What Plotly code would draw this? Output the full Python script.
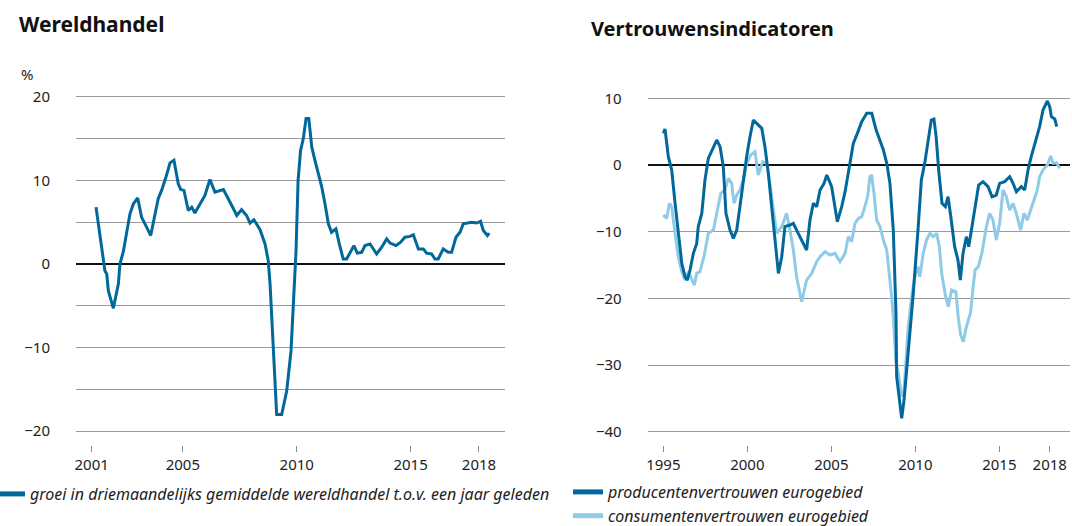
import plotly.graph_objects as go

# ---------------- data ----------------
# Wereldhandel: growth of 3-month average world trade vs one year earlier (%)
trade_x = [2001.19, 2001.44, 2001.58, 2001.66, 2001.73, 2001.95, 2002.17, 2002.24, 2002.39, 2002.68,
           2002.83, 2003.02, 2003.19, 2003.41, 2003.59, 2003.92, 2004.07, 2004.26, 2004.44, 2004.61,
           2004.80, 2004.91, 2005.05, 2005.24, 2005.39, 2005.53, 2005.75, 2005.97, 2006.19, 2006.41,
           2006.78, 2006.93, 2007.15, 2007.37, 2007.58, 2007.80, 2007.95, 2008.12, 2008.39, 2008.61,
           2008.75, 2008.83, 2008.97, 2009.12, 2009.34, 2009.56, 2009.75, 2009.85, 2009.97, 2010.06,
           2010.17, 2010.29, 2010.41, 2010.53, 2010.66, 2010.80, 2010.95, 2011.10, 2011.24, 2011.39,
           2011.53, 2011.72, 2011.87, 2012.04, 2012.19, 2012.37, 2012.51, 2012.66, 2012.85, 2013.00,
           2013.22, 2013.51, 2013.73, 2013.95, 2014.10, 2014.36, 2014.56, 2014.75, 2014.97, 2015.12,
           2015.34, 2015.56, 2015.70, 2015.92, 2016.07, 2016.21, 2016.43, 2016.65, 2016.80, 2016.99,
           2017.17, 2017.31, 2017.49, 2017.68, 2017.90, 2018.07, 2018.19, 2018.37, 2018.45]
trade_y = [6.8, 2.0, -0.8, -1.2, -3.2, -5.3, -2.4, 0.0, 1.5, 6.0,
           7.2, 7.9, 5.6, 4.4, 3.4, 7.8, 8.8, 10.4, 12.1, 12.4,
           9.6, 8.9, 8.8, 6.4, 6.8, 6.1, 7.2, 8.2, 10.1, 8.6,
           8.9, 8.2, 7.0, 5.8, 6.5, 5.8, 4.9, 5.3, 4.1, 2.4,
           0.4, -2.4, -10.4, -18.0, -18.0, -15.2, -10.4, -4.4, 1.6, 10.0,
           13.6, 15.0, 17.4, 17.4, 14.0, 12.4, 10.8, 9.2, 7.2, 4.8,
           3.8, 4.2, 2.4, 0.6, 0.6, 1.6, 2.2, 1.3, 1.4, 2.2,
           2.4, 1.2, 2.0, 3.0, 2.5, 2.2, 2.6, 3.2, 3.3, 3.5,
           1.8, 1.8, 1.3, 1.2, 0.6, 0.6, 1.8, 1.4, 1.4, 3.2,
           3.8, 4.8, 4.9, 5.0, 4.9, 5.1, 4.0, 3.4, 3.7]

# Vertrouwensindicatoren: producer confidence euro area
prod_x = [1995.0, 1995.1, 1995.3, 1995.5, 1995.7, 1995.89, 1996.1, 1996.29, 1996.43, 1996.59,
          1996.79, 1996.99, 1997.08, 1997.29, 1997.48, 1997.68, 1997.88, 1998.18, 1998.38, 1998.57,
          1998.73, 1998.97, 1999.17, 1999.37, 1999.56, 1999.76, 1999.96, 2000.16, 2000.36, 2000.56,
          2000.86, 2001.05, 2001.25, 2001.45, 2001.65, 2001.85, 2002.05, 2002.24, 2002.54, 2002.74,
          2003.03, 2003.33, 2003.53, 2003.73, 2003.93, 2004.13, 2004.33, 2004.57, 2004.73, 2005.02,
          2005.36, 2005.62, 2005.82, 2006.11, 2006.31, 2006.55, 2006.81, 2007.11, 2007.41, 2007.67,
          2007.9, 2008.1, 2008.3, 2008.49, 2008.69, 2008.85, 2008.89, 2008.99, 2009.19, 2009.33,
          2009.49, 2009.68, 2009.88, 2010.16, 2010.36, 2010.56, 2010.75, 2010.95, 2011.11, 2011.24,
          2011.39, 2011.59, 2011.79, 2011.95, 2012.14, 2012.34, 2012.54, 2012.68, 2012.84, 2013.04,
          2013.18, 2013.38, 2013.57, 2013.77, 2014.03, 2014.33, 2014.57, 2014.82, 2015.02, 2015.32,
          2015.62, 2015.82, 2016.02, 2016.31, 2016.51, 2016.71, 2016.9, 2017.2, 2017.4, 2017.6,
          2017.86, 2018.0, 2018.1, 2018.3, 2018.42]
prod_y = [4.75, 5.4, 1.25, -0.75, -5.75, -10.25, -14.75, -16.75, -17.25, -15.75,
          -13.25, -11.75, -9.25, -7.25, -2.25, 1.0, 2.0, 3.75, 2.75, -0.25,
          -7.25, -9.75, -11.0, -9.75, -6.25, -2.25, 1.25, 4.25, 6.75, 6.25,
          5.5, 2.75, -1.25, -6.25, -11.75, -16.25, -13.75, -9.25, -9.0, -8.75,
          -10.25, -11.75, -12.75, -8.25, -5.75, -6.25, -3.75, -2.75, -1.5, -3.25,
          -8.5, -6.25, -4.0, 0.25, 3.25, 4.75, 6.5, 7.75, 7.75, 5.25,
          3.75, 2.25, 0.25, -2.75, -9.75, -22.25, -31.75, -33.75, -38.0, -35.25,
          -30.75, -25.25, -19.25, -9.75, -2.25, 0.25, 3.75, 6.75, 6.9, 4.25,
          -0.75, -5.75, -6.25, -4.75, -8.25, -12.25, -14.25, -17.25, -13.25, -10.75,
          -12.25, -9.25, -5.75, -3.0, -2.5, -3.25, -4.75, -4.5, -2.75, -2.5,
          -1.75, -2.75, -4.0, -3.25, -3.75, -0.75, 1.25, 3.75, 5.75, 8.25,
          9.6, 8.75, 7.25, 6.9, 5.75]

# consumer confidence euro area
cons_x = [1995.0, 1995.2, 1995.36, 1995.5, 1995.7, 1995.89, 1996.1, 1996.29, 1996.49, 1996.69,
          1996.85, 1996.99, 1997.18, 1997.42, 1997.68, 1997.98, 1998.18, 1998.42, 1998.67, 1998.87,
          1999.07, 1999.21, 1999.37, 1999.56, 1999.76, 1999.96, 2000.2, 2000.46, 2000.65, 2000.92,
          2001.15, 2001.35, 2001.55, 2001.75, 2002.05, 2002.34, 2002.54, 2002.74, 2002.93, 2003.14,
          2003.24, 2003.53, 2003.83, 2004.13, 2004.33, 2004.63, 2004.92, 2005.22, 2005.52, 2005.82,
          2006.01, 2006.21, 2006.41, 2006.61, 2006.81, 2007.0, 2007.16, 2007.3, 2007.4, 2007.54,
          2007.7, 2007.9, 2008.1, 2008.3, 2008.49, 2008.59, 2008.69, 2008.85, 2008.99, 2009.08,
          2009.19, 2009.33, 2009.45, 2009.58, 2009.78, 2009.97, 2010.17, 2010.27, 2010.47, 2010.67,
          2010.87, 2011.07, 2011.27, 2011.43, 2011.57, 2011.77, 2011.96, 2012.16, 2012.42, 2012.55,
          2012.7, 2012.86, 2013.02, 2013.15, 2013.3, 2013.42, 2013.56, 2013.75, 2013.96, 2014.23,
          2014.42, 2014.62, 2014.82, 2015.02, 2015.22, 2015.42, 2015.62, 2015.82, 2016.01, 2016.27,
          2016.47, 2016.67, 2016.86, 2017.06, 2017.26, 2017.4, 2017.6, 2017.86, 2018.06, 2018.2,
          2018.4, 2018.6]
cons_y = [-7.5, -8.0, -5.75, -6.25, -10.25, -13.75, -16.0, -17.25, -16.0, -17.25,
          -18.0, -16.25, -16.0, -13.75, -10.25, -9.75, -7.25, -4.25, -3.75, -2.0,
          -2.75, -5.75, -4.5, -3.75, -2.25, 0.25, 1.5, 2.0, -1.5, 0.5,
          0.25, -2.75, -6.75, -10.25, -9.25, -7.25, -9.75, -12.75, -16.75, -19.25,
          -20.5, -17.25, -16.25, -14.5, -13.75, -13.0, -13.5, -13.25, -14.5, -13.25,
          -10.75, -11.5, -8.75, -8.0, -7.75, -6.25, -4.75, -1.75, -1.5, -4.25,
          -8.25, -9.25, -11.25, -12.75, -16.75, -19.75, -22.75, -29.75, -31.25, -32.75,
          -34.75, -33.75, -29.25, -24.25, -19.75, -16.75, -15.25, -16.75, -13.25, -11.25,
          -10.25, -10.75, -10.25, -12.25, -16.25, -19.25, -21.25, -18.75, -19.0, -22.75,
          -25.5, -26.5, -24.5, -23.5, -22.0, -18.75, -15.75, -15.25, -13.25, -9.25,
          -7.25, -8.25, -11.25, -8.75, -3.75, -4.75, -6.75, -5.75, -7.25, -9.75,
          -7.25, -8.25, -6.75, -5.25, -3.75, -1.75, -0.75, 0.0, 1.35, 0.25,
          0.35, -0.5]

left_xticks = [2001, 2005, 2010, 2015, 2018]
right_xticks = [1995, 2000, 2005, 2010, 2015, 2018]
left_yticks = [-20, -15, -10, -5, 0, 5, 10, 15, 20]
left_yticktext = ["−20", "", "−10", "", "0", "", "10", "", "20"]
right_yticks = [-40, -30, -20, -10, 0, 10]

left_title = "Wereldhandel"
right_title = "Vertrouwensindicatoren"
trade_name = "groei in driemaandelijks gemiddelde wereldhandel t.o.v. een jaar geleden"
prod_name = "producentenvertrouwen eurogebied"
cons_name = "consumentenvertrouwen eurogebied"

# ---------------- styling ----------------
W, H = 1072, 526
DARK = "#01689b"
LIGHT = "#8fcae7"
GRID = "#9a9a9a"
FONT = "Noto Sans"

def xdom(p0, p1):
    return [p0 / W, p1 / W]

def ydom(ptop, pbot):
    return [1 - pbot / H, 1 - ptop / H]

fig = go.Figure()
fig.add_trace(go.Scatter(x=trade_x, y=trade_y, mode="lines", name=trade_name,
                         line=dict(color=DARK, width=3), xaxis="x", yaxis="y",
                         legend="legend", legendrank=1))
fig.add_trace(go.Scatter(x=cons_x, y=cons_y, mode="lines", name=cons_name,
                         line=dict(color=LIGHT, width=3), xaxis="x2", yaxis="y2",
                         legend="legend2", legendrank=3))
fig.add_trace(go.Scatter(x=prod_x, y=prod_y, mode="lines", name=prod_name,
                         line=dict(color=DARK, width=3), xaxis="x2", yaxis="y2",
                         legend="legend2", legendrank=2))

tickfont = dict(family=FONT, size=15, color="#222")
xcommon = dict(showgrid=False, zeroline=False, showline=False, ticks="outside",
               ticklen=6, tickcolor="#888", tickwidth=1, tickfont=tickfont,
               tickmode="array")
ycommon = dict(showgrid=True, gridcolor=GRID, gridwidth=1, zeroline=True,
               zerolinecolor="#111", zerolinewidth=2, showline=False,
               ticks="outside", ticklen=22, tickcolor="rgba(0,0,0,0)",
               tickfont=tickfont, tickmode="array")

legfont = dict(family=FONT, size=16, color="#222", style="italic")

fig.update_layout(
    width=W, height=H,
    margin=dict(l=0, r=0, t=0, b=0, autoexpand=False),
    paper_bgcolor="white", plot_bgcolor="white",
    font=dict(family=FONT, color="#222"),
    xaxis=dict(domain=xdom(76, 505), range=[2000.311, 2019.143],
               tickvals=left_xticks, ticktext=[str(v) for v in left_xticks], anchor="y",
               **xcommon),
    yaxis=dict(domain=ydom(88, 445), range=[-21.65, 21.05],
               tickvals=left_yticks, ticktext=left_yticktext, anchor="x", **ycommon),
    xaxis2=dict(domain=xdom(647.7, 1070), range=[1994.071, 2019.208],
                tickvals=right_xticks, ticktext=[str(v) for v in right_xticks], anchor="y2",
                **xcommon),
    yaxis2=dict(domain=ydom(88, 445), range=[-41.99, 11.55],
                tickvals=right_yticks, ticktext=[("−" + str(-v)) if v < 0 else str(v) for v in right_yticks],
                anchor="x2", **ycommon),
    legend=dict(x=-10 / W, y=1 - 477 / H, xanchor="left", yanchor="top",
                font=legfont, bgcolor="rgba(0,0,0,0)", traceorder="normal",
                maxheight=200, itemsizing="constant"),
    legend2=dict(x=568 / W, y=1 - 475 / H, xanchor="left", yanchor="top",
                 font=legfont, bgcolor="rgba(0,0,0,0)", traceorder="normal",
                 tracegroupgap=0, maxheight=200, itemsizing="constant"),
    showlegend=True,
    annotations=[
        dict(text="<b>" + left_title + "</b>", x=17 / W, y=1 - 8 / H, xref="paper", yref="paper",
             xanchor="left", yanchor="top", showarrow=False,
             font=dict(family=FONT, size=21, color="#111")),
        dict(text="<b>" + right_title + "</b>", x=589 / W, y=1 - 13 / H, xref="paper", yref="paper",
             xanchor="left", yanchor="top", showarrow=False,
             font=dict(family=FONT, size=20, color="#111")),
        dict(text="%", x=19 / W, y=1 - 62 / H, xref="paper", yref="paper",
             xanchor="left", yanchor="top", showarrow=False,
             font=dict(family=FONT, size=15, color="#222")),
    ],
)

fig.write_html("out.html",
               config={"displayModeBar": False},
               post_script="document.body.style.margin='0';document.body.style.padding='0';")
